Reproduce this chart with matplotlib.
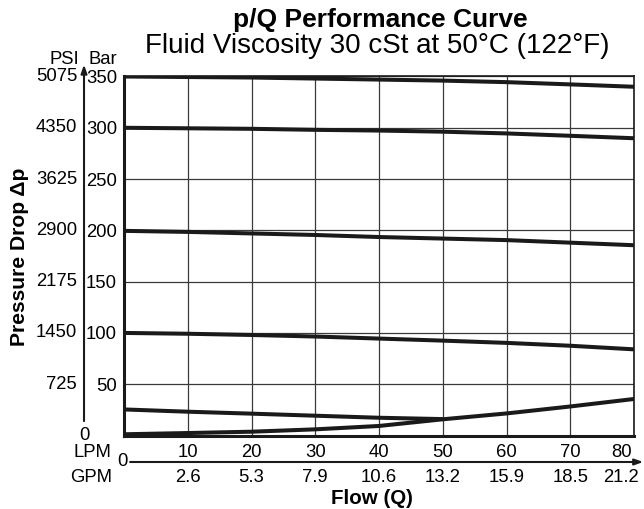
import numpy as np
import matplotlib
matplotlib.use("Agg")
import matplotlib.pyplot as plt

plt.rcParams['font.family'] = ['Liberation Sans', 'DejaVu Sans']

# flow in LPM, pressure drop in bar
lpm = [0, 10, 20, 30, 40, 50, 60, 70, 80]
gpm = ['2.6', '5.3', '7.9', '10.6', '13.2', '15.9', '18.5', '21.2']
bar_ticks = [50, 100, 150, 200, 250, 300, 350]
psi_ticks = ['725', '1450', '2175', '2900', '3625', '4350', '5075']

curve_350 = [350, 349.5, 349, 348, 347, 346, 344.5, 342.3, 340]
curve_300 = [300, 299.5, 299, 298, 297.3, 296.2, 294.5, 292.2, 289.8]
curve_200 = [199.5, 198.5, 197, 195.5, 193.5, 192, 190.5, 188, 185.5]
curve_100 = [100, 99.2, 98, 96.5, 94.5, 92.5, 90.3, 87.5, 84]
low_lpm = [0, 10, 20, 30, 40, 50]
curve_low = [25.4, 23.2, 21.3, 19.3, 17.3, 16]
curve_rise = [1.2, 2.4, 3.7, 6, 9.3, 15.8, 21.5, 28.3, 35.6]

W, H = 644, 509
fig = plt.figure(figsize=(W / 100, H / 100), dpi=100)
ax = fig.add_axes([124 / W, 1 - 435.5 / H, 510 / W, 359 / H])

for x in lpm[1:]:
    ax.axvline(x, color='#3a3a3a', lw=0.9, zorder=1)
for y in bar_ticks:
    ax.axhline(y, color='#3a3a3a', lw=0.9, zorder=1)

for c in [curve_350, curve_300, curve_200, curve_100, curve_rise]:
    ax.plot(lpm, c, color='#1a1a1a', lw=2.9, solid_capstyle='butt', zorder=3)
ax.plot(low_lpm, curve_low, color='#1a1a1a', lw=2.9, solid_capstyle='butt', zorder=3)

ax.set_xlim(0, 80)
ax.set_ylim(0, 350)
for side in ['left', 'bottom']:
    ax.spines[side].set_linewidth(2.2)
for side in ['right', 'top']:
    ax.spines[side].set_linewidth(1.2)
for s in ax.spines.values():
    s.set_color('#1a1a1a')

fs = 13.3
ax.set_xticks([])
ax.set_yticks(bar_ticks)
ax.set_yticklabels([str(v) for v in bar_ticks], fontsize=fs)
ax.tick_params(axis='y', length=0, pad=5)

# PSI labels and vertical arrow axis
ty = ax.get_yaxis_transform()
for v, p in zip(bar_ticks, psi_ticks):
    ax.text(-0.092, v, p, transform=ty, ha='right', va='center', fontsize=fs)
ax.text(-0.0784, 0, '0', transform=ty, ha='center', va='center', fontsize=fs)
ax.annotate('', xy=(-0.0784, 1.033), xytext=(-0.0784, 0.04), xycoords='axes fraction',
            textcoords='axes fraction',
            arrowprops=dict(arrowstyle='-|>,head_length=0.5,head_width=0.18', color='#1a1a1a',
                            lw=1.5, shrinkA=0, shrinkB=0), annotation_clip=False)
ax.text(-0.118, 1.046, 'PSI', transform=ax.transAxes, ha='center', va='center', fontsize=fs)
ax.text(-0.041, 1.046, 'Bar', transform=ax.transAxes, ha='center', va='center', fontsize=fs)

# flow axis (last pair of labels pulled in from the edge, as in the original)
tx = ax.get_xaxis_transform()
label_x = lpm[1:-1] + [78]
for xpos, x in zip(label_x, lpm[1:]):
    ax.text(xpos, -0.046, str(x), transform=tx, ha='center', va='center', fontsize=fs)
for xpos, g in zip(label_x, gpm):
    ax.text(xpos, -0.116, g, transform=tx, ha='center', va='center', fontsize=fs)
ax.annotate('', xy=(1.018, -0.0738), xytext=(0.012, -0.0738), xycoords='axes fraction',
            textcoords='axes fraction',
            arrowprops=dict(arrowstyle='-|>,head_length=0.5,head_width=0.18', color='#1a1a1a',
                            lw=1.5, shrinkA=0, shrinkB=0), annotation_clip=False)
ax.text(-0.004, -0.0738, '0', transform=ax.transAxes, ha='center', va='center', fontsize=fs)
ax.text(-0.024, -0.046, 'LPM', transform=ax.transAxes, ha='right', va='center', fontsize=fs)
ax.text(-0.024, -0.116, 'GPM', transform=ax.transAxes, ha='right', va='center', fontsize=fs)

fig.text(372 / W, 1 - 499 / H, 'Flow (Q)', ha='center', va='center', fontsize=14.8, fontweight='bold')
fig.text(20 / W, 1 - 257 / H, 'Pressure Drop \u0394p', ha='center', va='center', rotation=90,
         fontsize=15.2, fontweight='bold')

fig.text(380 / W, 1 - 20 / H, 'p/Q Performance Curve', ha='center', va='center', fontsize=19,
         fontweight='bold')
fig.text(377 / W, 1 - 46 / H, 'Fluid Viscosity 30 cSt at 50\u00b0C (122\u00b0F)', ha='center',
         va='center', fontsize=20)

fig.savefig('out.png', dpi=100)
